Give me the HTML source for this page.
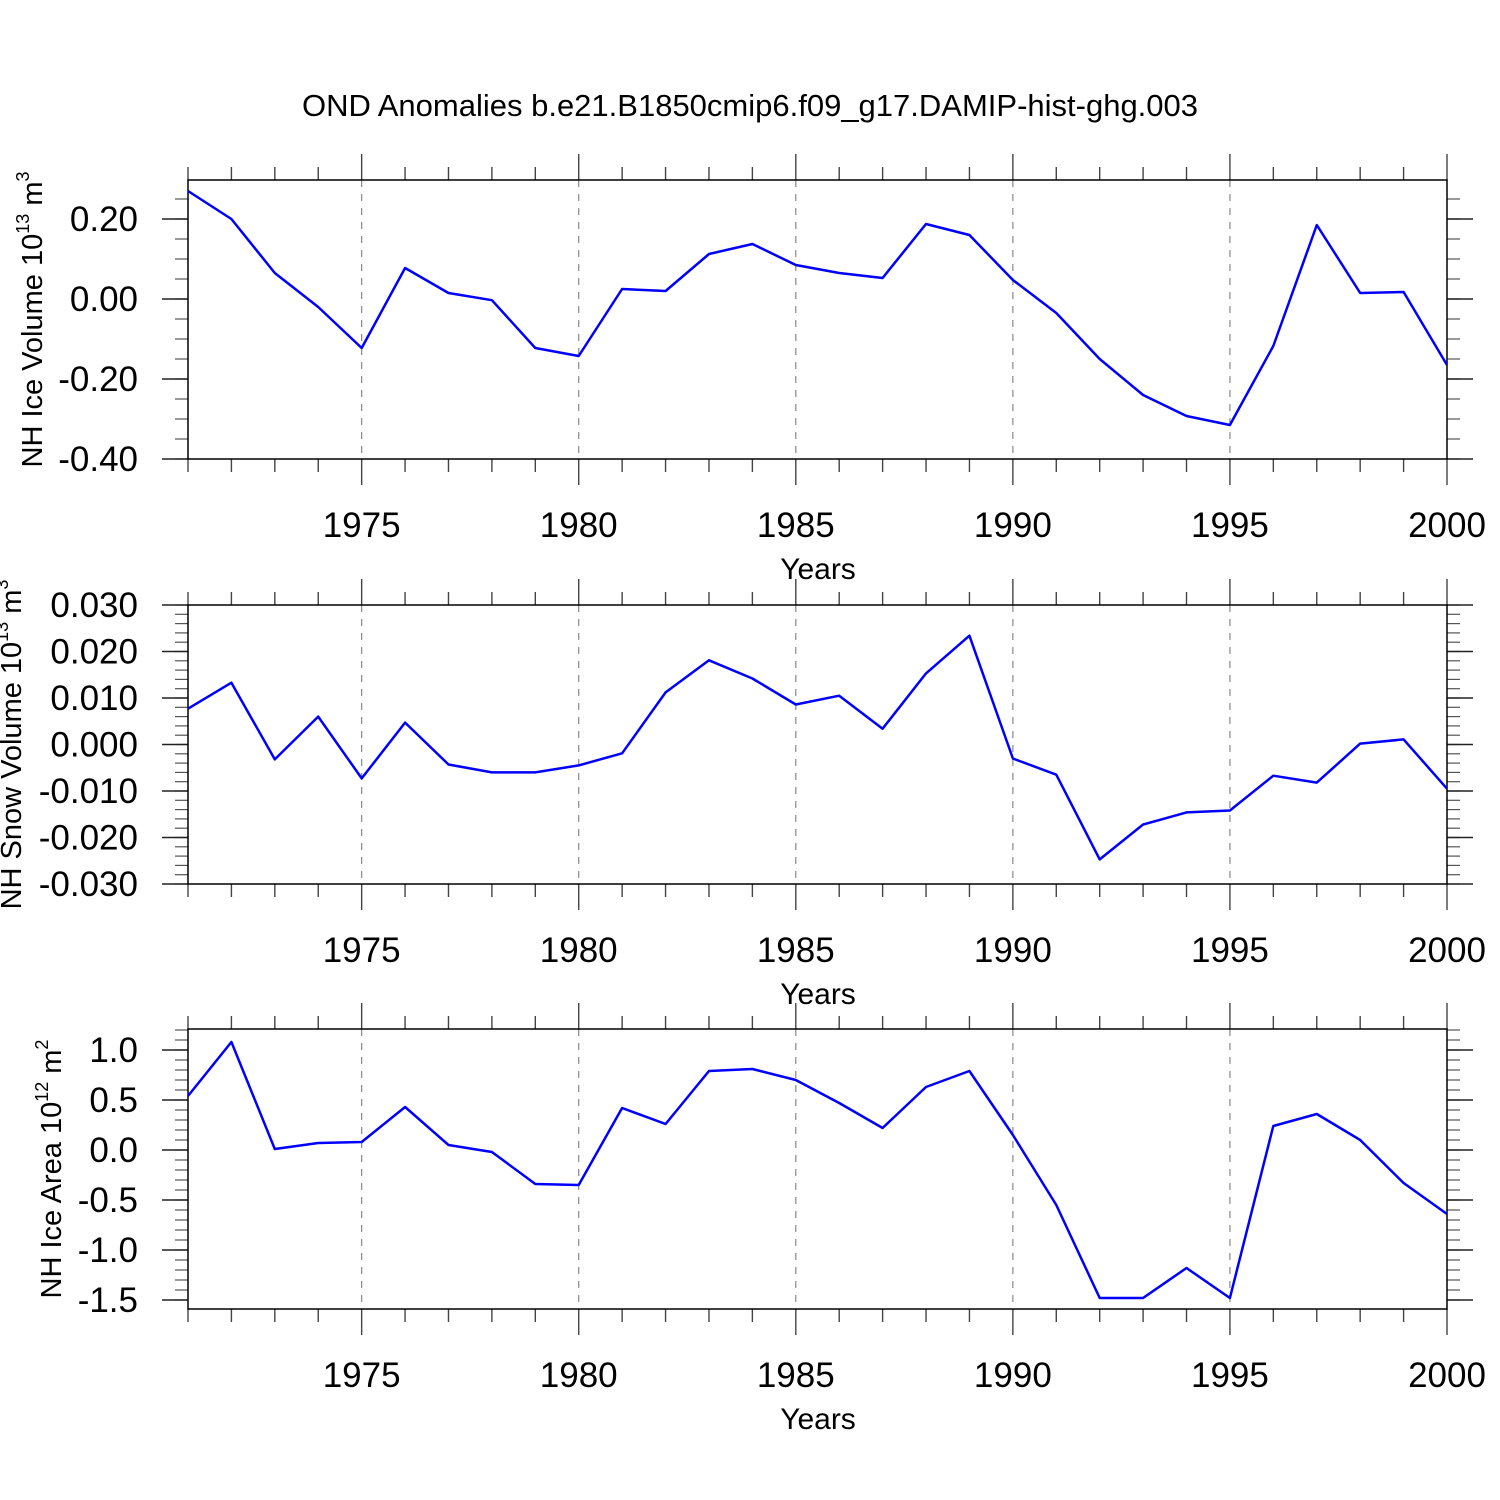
<!DOCTYPE html>
<html><head><meta charset="utf-8"><style>
body{margin:0;background:#fff}
svg{display:block;font-family:"Liberation Sans",sans-serif}
</style></head><body>
<svg id="chart" width="1500" height="1500" viewBox="0 0 1500 1500">
<text x="750" y="116" font-size="31" text-anchor="middle">OND Anomalies b.e21.B1850cmip6.f09_g17.DAMIP-hist-ghg.003</text>
<g id="plots"></g>
</svg>
<script>
const years=[1971,1972,1973,1974,1975,1976,1977,1978,1979,1980,1981,1982,1983,1984,1985,1986,1987,1988,1989,1990,1991,1992,1993,1994,1995,1996,1997,1998,1999,2000];
const iceVolume=[0.27,0.20,0.065,-0.02,-0.1225,0.0775,0.015,-0.003,-0.1225,-0.1425,0.025,0.02,0.1125,0.1375,0.085,0.065,0.0525,0.1875,0.16,0.0475,-0.035,-0.15,-0.24,-0.2925,-0.315,-0.1175,0.185,0.015,0.0175,-0.165];
const snowVolume=[0.0077,0.0133,-0.0032,0.006,-0.0073,0.0047,-0.0043,-0.006,-0.006,-0.0045,-0.0019,0.0112,0.0181,0.0142,0.0086,0.0105,0.0034,0.0153,0.0234,-0.003,-0.0065,-0.0247,-0.0172,-0.0146,-0.0142,-0.0067,-0.0082,0.0002,0.0011,-0.0095];
const iceArea=[0.54,1.08,0.01,0.07,0.08,0.43,0.05,-0.02,-0.34,-0.35,0.42,0.26,0.79,0.81,0.70,0.47,0.22,0.63,0.79,0.15,-0.55,-1.48,-1.48,-1.18,-1.48,0.24,0.36,0.10,-0.33,-0.64];
const xTickLabels=["1975","1980","1985","1990","1995","2000"];
const ticks1=["0.20","0.00","-0.20","-0.40"];
const ticks2=["0.030","0.020","0.010","0.000","-0.010","-0.020","-0.030"];
const ticks3=["1.0","0.5","0.0","-0.5","-1.0","-1.5"];

const NS="http://www.w3.org/2000/svg";
const root=document.getElementById('plots');
const X0=188,X1=1447;
const xs=v=>X0+(v-1971)/(2000-1971)*(X1-X0);
function mk(tag,attrs,parent){const e=document.createElementNS(NS,tag);for(const k in attrs)e.setAttribute(k,attrs[k]);parent.appendChild(e);return e;}
function panel(name,top,bottom,vmin,vmax,data,ticks,minorStep,label,labelX,sup1,sup2){
  const g=mk('g',{},root);
  
  
  const ys=v=>bottom-(v-vmin)/(vmax-vmin)*(bottom-top);
  for(let y=1975;y<2000;y+=5){const l=mk('line',{x1:xs(y),x2:xs(y),y1:top,y2:bottom,stroke:'#888','stroke-width':1.2,'stroke-dasharray':'7,7'},g);
    
    }
  for(let y=1971;y<=2000;y++){const maj=y%5===0;const L=maj?26:13;
    mk('line',{x1:xs(y),x2:xs(y),y1:top-L,y2:top,stroke:'#444','stroke-width':1.4},g);
    mk('line',{x1:xs(y),x2:xs(y),y1:bottom,y2:bottom+L,stroke:'#444','stroke-width':1.4},g);}
  xTickLabels.forEach(t=>{const e=mk('text',{x:xs(+t),y:bottom+78,'font-size':35,'text-anchor':'middle'},g);e.textContent=t;
    
    });
  const xt=mk('text',{x:818,y:bottom+120,'font-size':30,'text-anchor':'middle'},g);xt.textContent='Years';
  
  
  const start=Math.ceil(vmin/minorStep-1e-6);
  for(let i=start;i*minorStep<=vmax+1e-9;i++){const v=i*minorStep;const y=ys(v);
    mk('line',{x1:X0-13,x2:X0,y1:y,y2:y,stroke:'#555','stroke-width':1.2},g);
    mk('line',{x1:X1,x2:X1+13,y1:y,y2:y,stroke:'#555','stroke-width':1.2},g);}
  ticks.forEach(t=>{const y=ys(parseFloat(t));
    mk('line',{x1:X0-26,x2:X0,y1:y,y2:y,stroke:'#222','stroke-width':1.6},g);
    mk('line',{x1:X1,x2:X1+26,y1:y,y2:y,stroke:'#222','stroke-width':1.6},g);
    const e=mk('text',{x:X0-50,y:y+12,'font-size':35,'text-anchor':'end'},g);e.textContent=t;
    
    });
  mk('rect',{x:X0,y:top,width:X1-X0,height:bottom-top,fill:'none',stroke:'#000','stroke-width':1.5},g);
  const pts=data.map((v,i)=>xs(years[i]).toFixed(1)+','+ys(v).toFixed(1)).join(' ');
  const pl=mk('polyline',{points:pts,fill:'none',stroke:'#0000ff','stroke-width':2.5,'stroke-linejoin':'round'},g);
  
  
  const cy=(top+bottom)/2;
  const yt=mk('text',{transform:`translate(${labelX},${cy}) rotate(-90)`,'font-size':29,'text-anchor':'middle'},g);
  yt.innerHTML=label+' 10<tspan dy="-13" font-size="18">'+sup1+'</tspan><tspan dy="13"> m</tspan><tspan dy="-13" font-size="18">'+sup2+'</tspan>';
  
  
}
panel('ice-volume',180,459,-0.4,0.2975,iceVolume,ticks1,0.05,'NH Ice Volume',42,'13','3');
panel('snow-volume',605,884,-0.03,0.03,snowVolume,ticks2,0.002,'NH Snow Volume',21,'13','3');
panel('ice-area',1029,1309,-1.59,1.21,iceArea,ticks3,0.1,'NH Ice Area',61,'12','2');
</script>
</body></html>
